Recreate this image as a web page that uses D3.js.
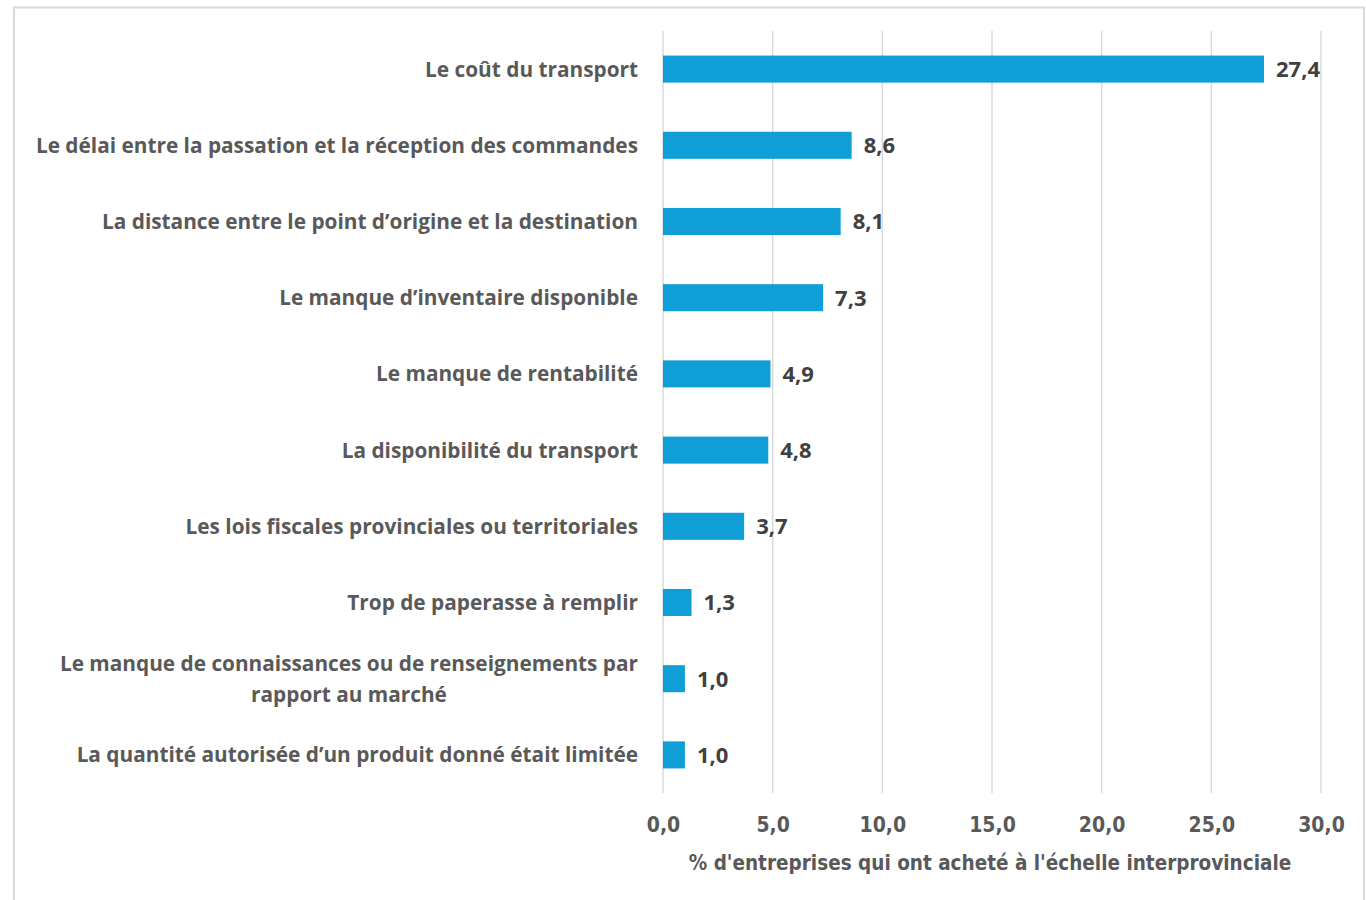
<!DOCTYPE html>
<html>
<head>
<meta charset="utf-8">
<script src="https://cdn.jsdelivr.net/npm/d3@7"></script>
<style>
  body { margin: 0; background: #fff; }
  svg { display: block; }
</style>
</head>
<body>
<svg id="chart"></svg>
<script>
// donnees du graphique
var categories = [
  "Le coût du transport",
  "Le délai entre la passation et la réception des commandes",
  "La distance entre le point d’origine et la destination",
  "Le manque d’inventaire disponible ",
  "Le manque de rentabilité",
  "La disponibilité du transport",
  "Les lois fiscales provinciales ou territoriales",
  "Trop de paperasse à remplir",
  "Le manque de connaissances ou de renseignements par|rapport au marché",
  "La quantité autorisée d’un produit donné était limitée"
];
var valeurs = [27.4, 8.6, 8.1, 7.3, 4.9, 4.8, 3.7, 1.3, 1.0, 1.0];
var ticks = [0, 5, 10, 15, 20, 25, 30];
var titreX = "% d'entreprises qui ont acheté à l'échelle interprovinciale";

var largeur = 1366, hauteur = 900;
var fmt = function (v) { return v.toFixed(1).replace(".", ","); };
var police = "'Open Sans', sans-serif";
var policeAxe = "'Liberation Sans Narrow', 'DejaVu Sans Condensed', sans-serif";

var svg = d3.select("#chart")
    .attr("width", largeur)
    .attr("height", hauteur);

// cadre gris autour du graphique
svg.append("rect")
    .attr("x", 14).attr("y", 7.5)
    .attr("width", 1350).attr("height", 900)
    .attr("fill", "none")
    .attr("stroke", "#d9d9d9")
    .attr("stroke-width", 2);

var x = d3.scaleLinear()
    .domain([0, 30])
    .range([663, 1321]);

var y = d3.scaleBand()
    .domain(categories)
    .range([31, 793])
    .paddingInner(0.645)
    .paddingOuter(0.3225);

// lignes de grille verticales
svg.append("g")
    .selectAll("line")
    .data(ticks)
    .enter()
    .append("line")
    .attr("x1", function (d) { return x(d); })
    .attr("x2", function (d) { return x(d); })
    .attr("y1", 31)
    .attr("y2", 793)
    .attr("stroke", "#d9d9d9")
    .attr("stroke-width", 1.5);

// axe des x (seulement les etiquettes)
var axeX = d3.axisBottom(x)
    .tickValues(ticks)
    .tickFormat(fmt)
    .tickSize(0)
    .tickPadding(0);

var gx = svg.append("g")
    .attr("transform", "translate(0,817)")
    .call(axeX);
gx.select(".domain").remove();
gx.selectAll("text")
    .attr("fill", "#595959")
    .attr("font-family", policeAxe)
    .attr("font-weight", "bold")
    .attr("font-size", "21px");

// titre de l'axe
svg.append("text")
    .attr("x", x(15) - 2)
    .attr("y", 870)
    .attr("text-anchor", "middle")
    .attr("fill", "#595959")
    .attr("font-family", policeAxe)
    .attr("font-weight", "bold")
    .attr("font-size", "20.5px")
    .text(titreX);

// barres
svg.append("g")
    .selectAll("rect")
    .data(valeurs)
    .enter()
    .append("rect")
    .attr("x", x(0))
    .attr("y", function (d, i) { return y(categories[i]); })
    .attr("width", function (d) { return x(d) - x(0); })
    .attr("height", y.bandwidth())
    .attr("fill", "#109ed6");

// etiquettes de valeur
svg.append("g")
    .selectAll("text")
    .data(valeurs)
    .enter()
    .append("text")
    .attr("x", function (d) { return x(d) + 12; })
    .attr("y", function (d, i) { return y(categories[i]) + y.bandwidth() / 2; })
    .attr("dy", "0.36em")
    .attr("fill", "#404040")
    .attr("font-family", police)
    .attr("font-weight", "bold")
    .attr("font-size", "22px")
    .text(fmt);

// etiquettes des categories
var etiq = svg.append("g")
    .selectAll("text")
    .data(categories)
    .enter()
    .append("text")
    .attr("fill", "#595959")
    .attr("font-family", police)
    .attr("font-weight", "bold")
    .attr("font-size", "20.8px");

etiq.each(function (d) {
    var lignes = d.split("|");
    var t = d3.select(this);
    var cy = y(d) + y.bandwidth() / 2;
    if (lignes.length == 1) {
        t.attr("x", 638).attr("y", cy).attr("dy", "0.36em")
            .attr("text-anchor", "end").text(d);
    } else {
        // texte sur deux lignes, centre dans le bloc
        t.attr("text-anchor", "middle");
        var spans = lignes.map(function (l, k) {
            return t.append("tspan")
                .attr("x", 0)
                .attr("y", cy + (k - 0.5) * 31)
                .attr("dy", "0.36em")
                .text(l);
        });
        var w = d3.max(spans, function (s) { return s.node().getComputedTextLength(); });
        t.selectAll("tspan").attr("x", 638 - w / 2);
    }
});
</script>
</body>
</html>
